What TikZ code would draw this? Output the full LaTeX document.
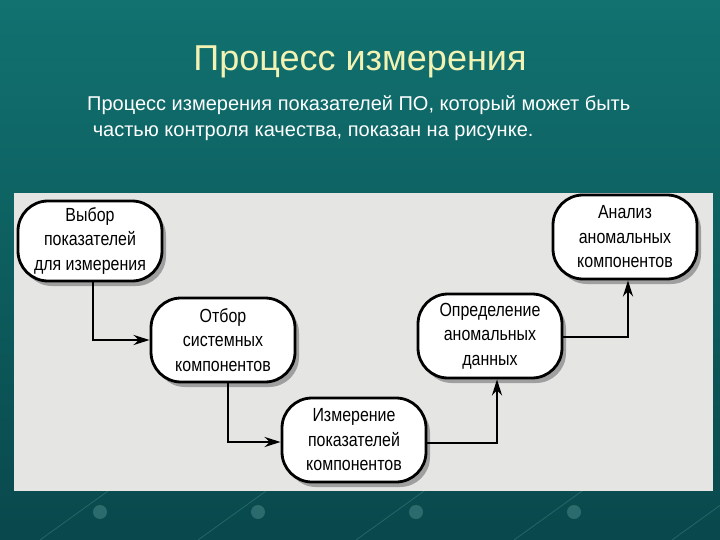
\documentclass[tikz,border=0pt]{standalone}
\usepackage{fontspec}
\setmainfont{Liberation Sans}
\newfontfamily\narrowfont[FakeStretch=0.84]{Liberation Sans}
\usetikzlibrary{shadows,arrows.meta}
\definecolor{bgtop}{RGB}{17,114,112}
\definecolor{bgbot}{RGB}{9,72,76}
\definecolor{titlecol}{RGB}{242,242,180}
\definecolor{scanbg}{RGB}{229,229,227}
\tikzset{
  procbox/.style={draw=black, line width=2.8pt, fill=white, rounded corners=30pt,
    minimum width=144pt, minimum height=84pt, align=center, inner sep=2pt,
    font=\narrowfont\fontsize{19}{24.5}\selectfont,
    drop shadow={shadow xshift=4pt, shadow yshift=-5pt, fill=gray!75, opacity=1}},
  arr/.style={line width=2.6pt, -{Stealth[length=16pt,width=10pt]}},
  deco/.style={draw=bgtop!70!white, opacity=0.35, line width=0.8pt}
}
\begin{document}
\begin{tikzpicture}[x=1pt,y=-1pt]
\useasboundingbox (0,0) rectangle (720,540);
\shade[top color=bgtop, bottom color=bgbot] (0,0) rectangle (720,540);
% decorative lines at bottom
\foreach \x in {40,198,356,514,672}{
  \draw[deco] (\x,540) -- (\x+100,468);
  \fill[bgtop!60!white, opacity=0.35] (\x+60,512) circle (7);
}
\node[text=titlecol, font=\fontsize{36}{40}\selectfont] (title) at (360,62) {Процесс измерения};
\node[text=white, anchor=west, font=\fontsize{20}{26}\selectfont, align=left, inner sep=0pt] (body) at (87,118)
  {Процесс измерения показателей ПО, который может быть\\\ частью контроля качества, показан на рисунке.};
% scanned figure area
\fill[scanbg] (14,193) rectangle (713,491);
\node[procbox, minimum height=80pt] (n1) at (90,241) {Выбор\\показателей\\для измерения};
\node[procbox] (n2) at (223,340) {Отбор\\системных\\компонентов};
\node[procbox] (n3) at (354,440) {Измерение\\показателей\\компонентов};
\node[procbox] (n4) at (490,336) {Определение\\аномальных\\данных};
\node[procbox] (n5) at (625,237) {Анализ\\аномальных\\компонентов};
\draw[arr] ([xshift=3pt]n1.south) |- (n2.west);
\draw[arr] ([xshift=5pt]n2.south) |- ([yshift=-2pt]n3.west);
\draw[arr] ([yshift=-3pt]n3.east) -| ([xshift=7pt]n4.south);
\draw[arr] ([yshift=-1pt]n4.east) -| ([xshift=3pt]n5.south);
\end{tikzpicture}
\end{document}
